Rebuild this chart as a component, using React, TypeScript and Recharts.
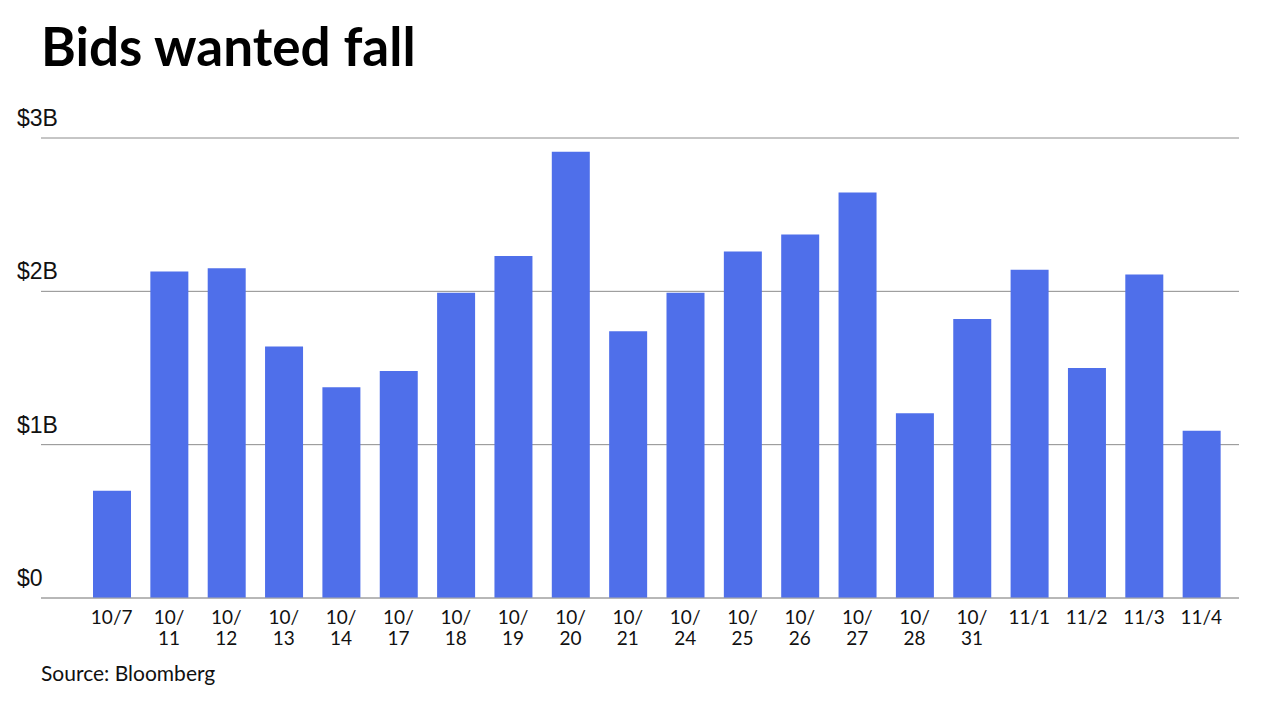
import React from "react";
import { BarChart, Bar, XAxis, YAxis, CartesianGrid } from "recharts";

const categories = ["10/7", "10/11", "10/12", "10/13", "10/14", "10/17", "10/18", "10/19", "10/20", "10/21", "10/24", "10/25", "10/26", "10/27", "10/28", "10/31", "11/1", "11/2", "11/3", "11/4"];
const bidsWanted = [0.7, 2.13, 2.15, 1.64, 1.375, 1.48, 1.99, 2.23, 2.91, 1.74, 1.99, 2.26, 2.37, 2.645, 1.205, 1.82, 2.14, 1.5, 2.11, 1.09];
const yTicks = [0, 1, 2, 3];
const yTickLabels = ["$0", "$1B", "$2B", "$3B"];

const data = categories.map((c, i) => ({ date: c, value: bidsWanted[i] }));

const XTick = (props: any) => {
  const { x, y, payload } = props;
  const label: string = payload.value;
  const parts = label.length > 4 ? [label.slice(0, 3), label.slice(3)] : [label];
  return (
    <g>
      {parts.map((p, i) => (
        <text
          key={i}
          x={x}
          y={y + 18 + i * 21}
          textAnchor="middle"
          fontFamily="Lato"
          fontSize={19}
          fill="#111"
        >
          {p}
        </text>
      ))}
    </g>
  );
};

const YTick = (props: any) => {
  const { y, payload } = props;
  const idx = yTicks.indexOf(payload.value);
  return (
    <text x={17} y={y - 12} textAnchor="start" fontFamily="Liberation Sans, Arial" fontSize={23} fill="#111">
      {yTickLabels[idx]}
    </text>
  );
};

export default function App() {
  return (
    <div style={{ position: "absolute", left: 0, top: 0, width: 1280, height: 720, background: "#fff" }}>
      <div style={{ position: "absolute", left: 41, top: 14, fontFamily: "Lato", fontWeight: 700, fontSize: 53, color: "#000", lineHeight: "64px" }}>
        Bids wanted fall
      </div>
      <BarChart width={1280} height={720} data={data} margin={{ top: 138, right: 41, bottom: 62, left: 17 }}>
        <CartesianGrid vertical={false} stroke="#8c8c8c" strokeWidth={1} />
        <XAxis
          dataKey="date"
          interval={0}
          tickLine={false}
          axisLine={{ stroke: "#aaa", strokeWidth: 1 }}
          padding={{ left: 42, right: 9 }}
          tick={<XTick />}
          height={60}
        />
        <YAxis
          domain={[0, 3]}
          ticks={yTicks}
          width={24}
          axisLine={false}
          tickLine={false}
          tick={<YTick />}
        />
        <Bar dataKey="value" fill="#4F6FEA" barSize={38} isAnimationActive={false} />
      </BarChart>
      <div style={{ position: "absolute", left: 41, top: 660, fontFamily: "Lato", fontSize: 21, color: "#111" }}>
        Source: Bloomberg
      </div>
    </div>
  );
}
